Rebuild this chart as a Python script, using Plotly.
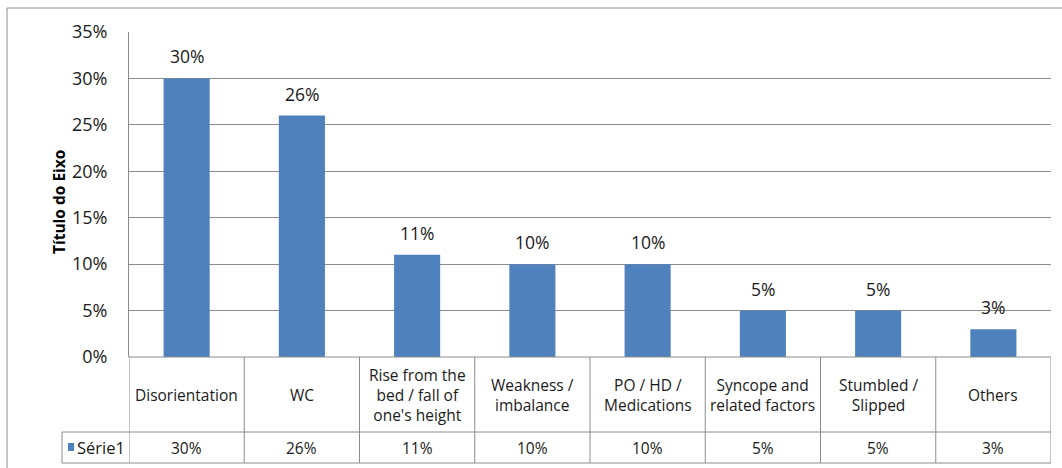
import plotly.graph_objects as go

categories = ["Disorientation", "WC", "Rise from the<br>bed / fall of<br>one's height",
              "Weakness /<br>imbalance", "PO / HD /<br>Medications",
              "Syncope and<br>related factors", "Stumbled /<br>Slipped", "Others"]
values = [0.30, 0.26, 0.11, 0.10, 0.10, 0.05, 0.05, 0.03]
value_labels = ["30%", "26%", "11%", "10%", "10%", "5%", "5%", "3%"]
series_name = "Série1"
y_ticks = [0, 0.05, 0.10, 0.15, 0.20, 0.25, 0.30, 0.35]
y_tick_labels = ["0%", "5%", "10%", "15%", "20%", "25%", "30%", "35%"]
axis_title = "Título do Eixo"

W, H = 1062, 468
L, R, T, B = 129, 1051, 32, 357
PW, PH = R - L, B - T

def px(xp):
    return (xp - L) / PW

def py(yp):
    return (B - yp) / PH

BAR = "#4F81BD"
GRID = "#8C8C8C"
FONT = "Open Sans"
TXT = "#1a1a1a"

n = len(categories)
xs = list(range(n))

fig = go.Figure()
fig.add_trace(go.Bar(x=xs, y=values, marker=dict(color=BAR, line=dict(width=0)),
                     width=0.4, showlegend=False, hoverinfo="skip"))

shapes = []
annotations = []

# data labels
for i, (v, lab) in enumerate(zip(values, value_labels)):
    annotations.append(dict(x=xs[i], y=v, xref="x", yref="y", text=lab, showarrow=False,
                            yanchor="bottom", yshift=8,
                            font=dict(family=FONT, size=17.5, color=TXT)))

# table geometry
row1_bottom = py(432)
row2_bottom = py(463)
legend_left = px(62)

line = dict(color=GRID, width=1)
shapes.append(dict(type="line", xref="x", yref="paper", x0=-0.5, x1=n - 0.5, y0=0, y1=0, line=line))
shapes.append(dict(type="line", xref="paper", yref="paper", x0=legend_left, x1=1, y0=row1_bottom, y1=row1_bottom, line=line))
shapes.append(dict(type="line", xref="paper", yref="paper", x0=legend_left, x1=1, y0=row2_bottom, y1=row2_bottom, line=line))
for i in range(n + 1):
    shapes.append(dict(type="line", xref="x", yref="paper", x0=i - 0.5, x1=i - 0.5,
                       y0=row2_bottom, y1=0, line=line))
shapes.append(dict(type="line", xref="paper", yref="paper", x0=legend_left, x1=legend_left,
                   y0=row2_bottom, y1=row1_bottom, line=line))

# legend key square
shapes.append(dict(type="rect", xref="paper", yref="paper", x0=px(68), x1=px(74),
                   y0=py(451), y1=py(443), fillcolor=BAR, line=dict(width=0)))
annotations.append(dict(x=px(75), y=(row1_bottom + row2_bottom) / 2, xref="paper", yref="paper",
                        text=series_name, showarrow=False, xanchor="left", yanchor="middle",
                        font=dict(family=FONT, size=16.5, color=TXT)))

# outer chart border
shapes.append(dict(type="rect", xref="paper", yref="paper", x0=px(7), x1=px(1075),
                   y0=py(480), y1=py(8), line=dict(color=GRID, width=1), fillcolor="rgba(0,0,0,0)"))

# category row and value row text
for i in range(n):
    annotations.append(dict(x=xs[i], y=(0 + row1_bottom) / 2, xref="x", yref="paper",
                            text=categories[i], showarrow=False, yanchor="middle",
                            font=dict(family=FONT, size=15.5, color=TXT)))
    annotations.append(dict(x=xs[i], y=(row1_bottom + row2_bottom) / 2, xref="x", yref="paper",
                            text=value_labels[i], showarrow=False, yanchor="middle",
                            font=dict(family=FONT, size=15.5, color=TXT)))

# axis title
annotations.append(dict(x=px(46), y=py(202), xref="paper", yref="paper", text="<b>" + axis_title + "</b>",
                        textangle=-90, showarrow=False, font=dict(family=FONT, size=15.5, color="#000")))

fig.update_layout(
    width=W, height=H,
    margin=dict(l=L, r=W - R, t=T, b=H - B, pad=0),
    paper_bgcolor="white", plot_bgcolor="white",
    shapes=shapes, annotations=annotations,
    xaxis=dict(range=[-0.5, n - 0.5], showticklabels=False, showgrid=False, zeroline=False,
               showline=False, ticks=""),
    yaxis=dict(range=[0, 0.35], tickvals=y_ticks, ticktext=y_tick_labels, showgrid=True,
               gridcolor=GRID, gridwidth=1, zeroline=False, showline=True, linecolor=GRID,
               linewidth=1, ticks="", ticklabelstandoff=17,
               tickfont=dict(family=FONT, size=18, color=TXT)),
    bargap=0.6,
)

fig.write_html("out.html")
